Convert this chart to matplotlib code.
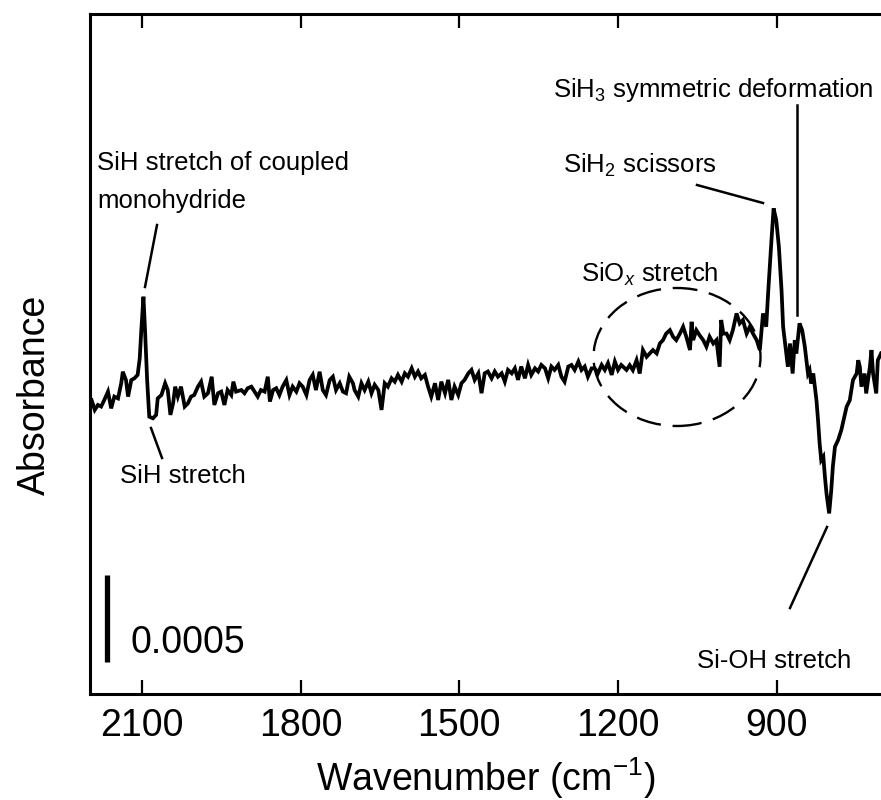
import matplotlib
matplotlib.use("Agg")
import matplotlib.pyplot as plt
import numpy as np
from matplotlib.patches import Ellipse

plt.rcParams["font.family"] = ["Liberation Sans", "DejaVu Sans"]
plt.rcParams["mathtext.fontset"] = "custom"
plt.rcParams["mathtext.rm"] = "Liberation Sans"
plt.rcParams["mathtext.it"] = "Liberation Sans:italic"

wavenumber = [
    2198, 2196, 2189, 2183, 2177, 2171, 2164, 2158, 2152, 2145, 2139, 2136, 2130, 2126, 2120,
    2114, 2108, 2104, 2101, 2097, 2094, 2090, 2086, 2079, 2073, 2070, 2063, 2056, 2051, 2046,
    2041, 2037, 2032, 2026, 2019, 2013, 2007, 2001, 1994, 1988, 1982, 1975, 1968, 1963, 1956,
    1950, 1944, 1938, 1931, 1927, 1922, 1912, 1906, 1900, 1893, 1887, 1881, 1875, 1868, 1862,
    1858, 1852, 1846, 1840, 1834, 1827, 1821, 1815, 1808, 1802, 1796, 1789, 1783, 1777, 1771,
    1764, 1758, 1752, 1745, 1739, 1733, 1726, 1720, 1714, 1708, 1701,
    1698, 1691, 1685, 1679, 1672, 1666, 1660, 1653, 1647, 1641, 1635, 1628, 1622, 1616, 1609,
    1603, 1597, 1590, 1584, 1578, 1572, 1565, 1559, 1553, 1546, 1540, 1534, 1527, 1521, 1515,
    1509, 1502, 1496, 1490, 1483, 1477, 1471, 1464, 1458, 1452, 1446, 1439, 1433, 1427, 1420,
    1414, 1408, 1401, 1395, 1389, 1383, 1376, 1370, 1364, 1357, 1351, 1345, 1338, 1332, 1326,
    1320, 1313, 1307, 1301, 1294, 1288, 1282, 1275, 1269, 1263, 1257, 1250, 1244, 1238, 1231,
    1225, 1219, 1212, 1206, 1200, 1194, 1184,
    1178, 1172, 1165, 1159, 1153, 1146, 1140, 1134, 1127, 1121, 1115, 1109, 1102, 1096, 1090,
    1083, 1077, 1071, 1064, 1061, 1058, 1052, 1046, 1039, 1033, 1027, 1020, 1014, 1008, 1005,
    1001, 995, 989, 983, 976, 970, 964, 957, 951, 945, 938, 932, 926, 920, 916,
    910, 906, 901, 896, 891, 888, 882, 879, 875, 870, 866, 863, 857, 852, 847,
    844, 841, 838, 835, 831, 825, 822, 819, 816, 812, 809, 806, 801, 797, 794,
    790, 784, 778, 768, 762, 756, 749, 746, 743, 740, 734, 731, 724, 721, 718,
    712, 709, 703,
]
signal = [
    128.0, 130.8, 125.7, 127.9, 127.2, 130.1, 133.8, 126.4, 131.6, 130.8, 137.5, 142.6, 138.9, 131.6, 138.9,
    139.7, 141.2, 148.5, 161.1, 175.8, 161.1, 138.9, 122.7, 122.0, 123.5, 130.8, 132.3, 137.5, 134.5, 123.5,
    128.6, 136.0, 131.6, 136.0, 127.2, 128.6, 131.6, 132.3, 136.0, 138.2, 131.6, 133.1, 140.4, 127.9, 133.1,
    133.8, 127.9, 134.5, 132.3, 138.2, 133.8, 134.5, 133.1, 135.3, 136.0, 133.8, 131.6, 134.5, 133.8, 140.4,
    129.4, 134.5, 135.3, 132.3, 136.0, 138.9, 132.3, 136.0, 133.8, 137.5, 136.0, 132.3, 138.9, 141.2, 134.5,
    142.6, 134.5, 132.3, 138.9, 140.4, 134.5, 137.5, 133.8, 133.1, 140.4, 137.5,
    134.5, 131.6, 137.5, 134.5, 138.2, 133.1, 136.8, 134.5, 125.7, 137.5, 136.0, 139.7, 138.2, 141.2, 138.2,
    141.9, 140.4, 144.1, 140.4, 142.7, 139.7, 141.2, 136.0, 131.6, 137.5, 130.1, 138.2, 133.1, 139.0, 130.1,
    136.0, 132.3, 137.5, 139.0, 141.9, 143.4, 139.0, 141.9, 133.1, 141.9, 142.7, 139.7, 142.7, 140.4, 141.9,
    138.2, 143.4, 141.9, 144.1, 139.0, 144.9, 139.7, 145.6, 141.2, 144.1, 142.7, 145.6, 144.1, 139.7, 144.9,
    143.4, 145.6, 140.4, 138.2, 144.9, 145.6, 143.4, 147.1, 143.4, 144.9, 140.4, 144.1, 144.1, 141.9, 145.6,
    143.4, 146.4, 141.2, 147.1, 143.4, 145.6, 143.4,
    145.5, 143.3, 147.7, 141.8, 152.2, 149.2, 150.7, 152.2, 150.7, 155.1, 156.6, 159.5, 161.0, 158.1, 156.6,
    159.5, 162.5, 158.1, 152.2, 164.7, 156.6, 161.0, 158.8, 156.6, 153.7, 158.1, 155.1, 156.6, 144.8, 165.5,
    159.5, 159.5, 156.6, 161.0, 168.4, 164.0, 165.5, 159.5, 162.5, 159.5, 156.6, 152.2, 168.4, 162.5, 178.7,
    200.9, 214.9, 209.7, 197.9, 178.7, 162.5, 150.7, 144.8, 155.1, 141.8, 156.6, 150.7, 164.0, 161.0, 153.7,
    147.7, 141.8, 143.3, 137.4, 141.8, 130.0, 121.2, 110.9, 103.5, 105.0, 96.1, 88.7, 79.9, 90.2, 100.6,
    109.4, 112.4, 116.8, 127.1, 130.0, 138.9, 141.8, 147.7, 144.8, 136.0, 141.8, 133.0, 144.8, 152.2, 141.8,
    133.0, 147.7, 150.7,
]

# the 0.0005 scale bar spans 38.5 trace units
scale_bar_abs = 0.0005
scale_bar_units = 38.5
abs_per_unit = scale_bar_abs / scale_bar_units

x_ticks = [2100, 1800, 1500, 1200, 900]
x_range = (2198, 703)
y_range_units = (0.0, 300.9)

FONT_BIG = 27
FONT_NOTE = 18.5

fig = plt.figure(figsize=(8.81, 8.0), dpi=100)
ax = fig.add_axes([90 / 881, 106 / 800, 791 / 881, 680 / 800])

absorbance = np.array(signal) * abs_per_unit
ax.plot(wavenumber, absorbance, color="black", lw=2.7, solid_joinstyle="miter")

ax.set_xlim(*x_range)
ax.set_ylim(y_range_units[0] * abs_per_unit, y_range_units[1] * abs_per_unit)
ax.set_xticks(x_ticks)
ax.set_xticklabels([str(t) for t in x_ticks], fontsize=FONT_BIG)
ax.set_yticks([])
ax.tick_params(axis="x", direction="in", top=True, length=10, width=1.6, pad=10)
for side in ("left", "bottom", "top"):
    ax.spines[side].set_linewidth(2.2)
ax.spines["right"].set_visible(False)

ax.set_xlabel("Wavenumber (cm$^{-1}$)", fontsize=FONT_BIG, labelpad=8)
fig.text(35 / 881, 1 - 395 / 800, "Absorbance", rotation=90, fontsize=FONT_BIG,
         ha="center", va="center")

# scale bar
bar_base = 14.2 * abs_per_unit
ax.plot([2166, 2166], [bar_base, bar_base + scale_bar_abs], color="black", lw=3.8,
        solid_capstyle="butt")


def af(x, y):
    # pixel position in the 881x800 figure -> axes fraction
    return ((x - 90) / 791, (694 - y) / 680)


def note(x, y, s, size=FONT_NOTE):
    ax.text(*af(x, y), s, transform=ax.transAxes, fontsize=size, ha="left", va="baseline")


def leader(p0, p1):
    (x0, y0), (x1, y1) = af(*p0), af(*p1)
    ax.plot([x0, x1], [y0, y1], transform=ax.transAxes, color="black", lw=1.8, clip_on=False)


note(130, 653, "0.0005", size=FONT_BIG)

note(97, 170, "SiH stretch of coupled")
note(97, 208, "monohydride")
leader((145, 287), (157, 225))

note(120, 483, "SiH stretch")
leader((151, 428), (162, 458))

note(581, 282, "SiO$_x$ stretch")
ell = Ellipse(af(677, 357), 167 / 791, 138 / 680, transform=ax.transAxes, fill=False,
              edgecolor="black", lw=1.7, linestyle=(0, (10.5, 5)))
ax.add_patch(ell)

note(553, 97, "SiH$_3$ symmetric deformation")
leader((797, 105), (797, 315))

note(563, 173, "SiH$_2$ scissors")
leader((697, 185), (763, 203))

note(697, 668, "Si-OH stretch")
leader((827, 527), (790, 608))

fig.savefig("out.png", dpi=100, facecolor="white")
